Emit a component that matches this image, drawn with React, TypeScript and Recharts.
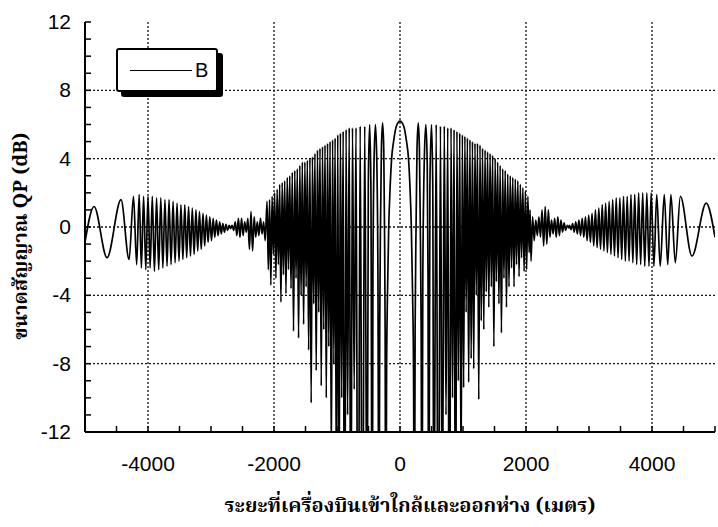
import { Legend, Line, LineChart, ReferenceLine, XAxis, YAxis } from 'recharts'

type Pt = [number, number]

// distance (m) against QP level (dB) from left to right
const farLeft: Pt[] = [
  [-5000, -0.9], [-4856, 1.2], [-4650, -1.8], [-4428, 1.6], [-4300, -1.9], [-4230, 1.8], [-4180, -2.2],
]

const leftFringe: Pt[] = [
  [-4140, 1.9], [-4105, -2.4], [-4070, 1.8], [-4035, -2.5], [-4000, 1.8], [-3966, -2.4], [-3932, 1.8],
  [-3898, -2.6], [-3864, 1.7], [-3830, -2.5], [-3797, 1.7], [-3764, -2.4], [-3731, 1.6], [-3698, -2.3],
  [-3666, 1.6], [-3634, -2.2], [-3602, 1.5], [-3570, -2.1], [-3539, 1.4], [-3508, -2.0], [-3477, 1.3],
  [-3446, -1.9], [-3416, 1.3], [-3386, -1.8], [-3356, 1.2], [-3326, -1.7], [-3297, 1.1], [-3268, -1.6],
  [-3239, 1.0], [-3211, -1.4], [-3183, 0.9], [-3155, -1.3], [-3127, 0.8], [-3100, -1.1], [-3073, 0.7],
  [-3046, -0.9], [-3019, 0.6], [-2992, -0.8], [-2966, 0.5], [-2940, -0.6], [-2914, 0.4], [-2888, -0.5],
  [-2862, 0.3], [-2837, -0.4], [-2812, 0.2], [-2787, -0.3], [-2762, 0.15], [-2737, -0.2], [-2712, 0.1],
  [-2690, -0.1],
]

const leftBursts: Pt[] = [
  [-2665, 0.1], [-2640, -0.2], [-2615, 0.3], [-2590, -0.5], [-2565, 0.5], [-2540, -0.6], [-2515, 0.5],
  [-2490, -0.5], [-2465, 0.3], [-2440, -0.3], [-2415, 0.5], [-2390, -1.3], [-2365, 0.9], [-2340, -1.4],
  [-2315, 0.6], [-2290, -0.6], [-2265, 0.3], [-2240, -0.5], [-2215, 0.5], [-2190, -0.4], [-2165, 0.3],
  [-2140, -0.8],
]

const leftSkirt: Pt[] = [
  [-2110, 1.5], [-2090, -2.5], [-2070, 1.6], [-2050, -3.4], [-2030, 1.8], [-2010, -1.6], [-1990, 2.0],
  [-1970, -3.0], [-1950, 2.2], [-1930, -2.2], [-1910, 2.5], [-1890, -4.4], [-1870, 2.6], [-1850, -2.8],
  [-1830, 2.7], [-1810, -3.9], [-1790, 2.9], [-1770, -2.5], [-1750, 3.0], [-1730, -3.6], [-1710, 3.2],
  [-1690, -6.1], [-1670, 3.3], [-1650, -3.0], [-1630, 3.4], [-1610, -6.5], [-1590, 3.6], [-1570, -4.0],
  [-1550, 3.8], [-1530, -5.7], [-1510, 3.8], [-1490, -3.5], [-1470, 3.9], [-1450, -7.2], [-1430, 4.0],
  [-1410, -10.3], [-1390, 4.1], [-1370, -4.5], [-1350, 4.3], [-1330, -8.4], [-1310, 4.5], [-1290, -5.0],
  [-1270, 4.6], [-1250, -9.3], [-1230, 4.7], [-1210, -6.0], [-1190, 4.8], [-1170, -10.0], [-1150, 4.9],
  [-1130, -7.0], [-1110, 5.0], [-1090, -14], [-1070, 5.1], [-1050, -8.0], [-1030, 5.2], [-1010, -16],
]

const leftCore: Pt[] = [
  [-988, 5.4], [-968, -17], [-946, 5.5], [-925, -10], [-902, 5.6], [-880, -26], [-856, 5.7], [-832, -11],
  [-806, 5.8], [-781, -21], [-754, 5.8], [-727, -9.5], [-698, 5.8], [-666, -28], [-632, 5.9], [-597, -24],
  [-560, 5.9], [-522, -20], [-503, 2.5], [-482, 6.0], [-462, 2.5], [-440, -24], [-430, -3], [-412, 3.8],
  [-390, 6.0], [-368, 3.8], [-350, -3], [-335, -22], [-322, -6], [-310, 0], [-295, 4.6], [-276, 6.1],
  [-258, 4.6], [-246, 0], [-236, -6], [-226, -22],
]

const mainLobe: Pt[] = [
  [-213, -8.5], [-199, -4], [-179, 0], [-158, 2.2], [-133, 4.0], [-98, 5.1], [-58, 5.9], [0, 6.2],
  [60, 5.9], [100, 5.1], [135, 4.0], [160, 2.2], [180, 0], [200, -4], [215, -8.5],
]

const rightCore: Pt[] = [
  [228, -22], [240, -6], [255, 0], [270, 4.6], [290, 6.1], [308, 4.6], [322, 0], [336, -6], [348, -22],
  [362, -3], [385, 3.8], [410, 6.0], [432, 3.8], [445, -3], [455, -24], [475, 2.5], [500, 6.0], [520, 2.5],
  [537, -20], [575, 6.0], [608, -25], [642, 5.9], [672, -18], [703, 5.9], [730, -11], [758, 5.8],
  [784, -26], [810, 5.8], [834, -10], [858, 5.7], [881, -22], [904, 5.6], [926, -9], [948, 5.5],
  [969, -15], [990, 5.4],
]

const rightSkirt: Pt[] = [
  [1010, -9.4], [1030, 5.3], [1050, -5], [1070, 5.2], [1090, -9.1], [1110, 5.1], [1130, -7.7], [1150, 5.0],
  [1170, -8.3], [1190, 4.9], [1210, -4.0], [1230, 4.9], [1250, -10.1], [1270, 4.8], [1290, -5.5],
  [1310, 4.6], [1330, -6.0], [1350, 4.5], [1370, -3.8], [1390, 4.4], [1410, -4.7], [1430, 4.3],
  [1450, -3.5], [1470, 4.2], [1490, -7.0], [1510, 4.0], [1530, -3.2], [1550, 3.8], [1570, -4.5],
  [1590, 3.6], [1610, -6.2], [1630, 3.4], [1650, -3.0], [1670, 3.3], [1690, -4.7], [1710, 3.1],
  [1730, -3.5], [1750, 3.0], [1770, -2.4], [1790, 2.9], [1810, -3.5], [1830, 2.8], [1850, -2.2],
  [1870, 2.7], [1890, -2.9], [1910, 2.5], [1930, -1.8], [1950, 2.3], [1970, -2.6], [1990, 2.1],
  [2010, -2.5], [2030, 1.8], [2050, -1.5], [2065, 1.0],
]

const rightBursts: Pt[] = [
  [2080, -2.0], [2105, 0.6], [2130, -0.8], [2155, 0.4], [2180, -0.5], [2205, 0.6], [2230, -0.6],
  [2255, 1.0], [2280, -1.1], [2305, 1.2], [2330, -1.0], [2355, 1.0], [2380, -0.6], [2405, 0.4],
  [2430, -0.4], [2455, 0.5], [2480, -0.6], [2505, 0.6], [2530, -0.5], [2555, 0.4], [2580, -0.3],
  [2605, 0.25], [2630, -0.2], [2655, 0.1], [2680, -0.05],
]

const rightFringe: Pt[] = [
  [2690, 0.1], [2715, -0.15], [2740, 0.2], [2765, -0.3], [2790, 0.3], [2815, -0.4], [2840, 0.4],
  [2866, -0.5], [2892, 0.5], [2918, -0.6], [2944, 0.6], [2970, -0.8], [2996, 0.7], [3022, -0.9],
  [3048, 0.8], [3075, -1.1], [3102, 1.0], [3129, -1.2], [3156, 1.1], [3183, -1.3], [3210, 1.3],
  [3237, -1.4], [3264, 1.4], [3292, -1.5], [3320, 1.5], [3348, -1.6], [3376, 1.6], [3404, -1.7],
  [3432, 1.7], [3461, -1.8], [3490, 1.7], [3519, -1.9], [3548, 1.8], [3577, -2.0], [3606, 1.8],
  [3636, -2.0], [3666, 1.9], [3696, -2.1], [3726, 1.9], [3757, -2.2], [3788, 2.0], [3820, -2.2],
  [3852, 2.0], [3885, -2.3], [3918, 2.0], [3952, -2.3], [3987, 2.0], [4030, -2.3], [4075, 1.9],
  [4130, -2.3], [4195, 1.9], [4250, -2.2], [4300, 1.9], [4370, -2.1], [4450, 1.8],
]

const farRight: Pt[] = [[4634, -1.7], [4860, 1.4], [5000, -0.6]]

const xTicks = [
  -5000, -4500, -4000, -3500, -3000, -2500, -2000, -1500, -1000, -500, 0,
  500, 1000, 1500, 2000, 2500, 3000, 3500, 4000, 4500, 5000,
]
const xLabelled = [-4000, -2000, 0, 2000, 4000]
const yTicks = [
  -12, -11, -10, -9, -8, -7, -6, -5, -4, -3, -2, -1, 0, 1, 2, 3, 4, 5, 6, 7, 8, 9, 10, 11, 12,
]
const yLabelled = [-12, -8, -4, 0, 4, 8, 12]
const xGrid = [-4000, -2000, 0, 2000, 4000]
const yGrid = [-8, -4, 0, 4, 8]

const data = [
  ...farLeft, ...leftFringe, ...leftBursts, ...leftSkirt, ...leftCore, ...mainLobe,
  ...rightCore, ...rightSkirt, ...rightBursts, ...rightFringe, ...farRight,
].map(([x, y]) => ({ x, y }))

const numFont = '"Liberation Sans", Arial, sans-serif'
const thaiFont = '"Noto Serif Thai", "Noto Sans Thai", Loma, Garuda, "DejaVu Sans", "Liberation Serif", serif'

function BottomTick({ x, y, payload }: any) {
  const v = payload.value
  return (
    <g>
      <line x1={x} x2={x} y1={y} y2={y - 6} stroke="#000" strokeWidth={1.5} />
      {xLabelled.includes(v) && (
        <text x={x} y={y + 39} textAnchor="middle" fontSize={21} fontFamily={numFont} fill="#000">
          {v}
        </text>
      )}
    </g>
  )
}

function TopTick({ x, y }: any) {
  return <line x1={x} x2={x} y1={y} y2={y + 6} stroke="#000" strokeWidth={1.5} />
}

function LeftTick({ x, y, payload }: any) {
  const v = payload.value
  return (
    <g>
      <line x1={x} x2={x + 6} y1={y} y2={y} stroke="#000" strokeWidth={1.5} />
      {yLabelled.includes(v) && (
        <text x={x - 14} y={y + 7} textAnchor="end" fontSize={21} fontFamily={numFont} fill="#000">
          {v}
        </text>
      )}
    </g>
  )
}

function RightTick({ x, y }: any) {
  return <line x1={x} x2={x - 6} y1={y} y2={y} stroke="#000" strokeWidth={1.5} />
}

const XTitle = () => (
  <text x={410} y={512} textAnchor="middle" fontSize={20} fontWeight="bold" fontFamily={thaiFont} fill="#000">
    ระยะที่เครื่องบินเข้าใกล้และออกห่าง (เมตร)
  </text>
)

const YTitle = () => (
  <text
    transform="translate(22,236) rotate(-90)"
    textAnchor="middle"
    dominantBaseline="middle"
    fontSize={20}
    fontWeight="bold"
    fontFamily={thaiFont}
    fill="#000"
  >
    ขนาดสัญญาณ QP (dB)
  </text>
)

function LegendBox({ payload }: any) {
  const name = payload && payload[0] ? payload[0].value : 'B'
  return (
    <div
      style={{
        width: 102,
        height: 44,
        border: '2px solid #000',
        borderRadius: 3,
        boxShadow: '5px 5px 0 #000',
        background: '#fff',
        display: 'flex',
        alignItems: 'center',
        paddingLeft: 12,
        boxSizing: 'border-box',
      }}
    >
      <div style={{ width: 62, height: 0, borderTop: '1.6px solid #000' }} />
      <span style={{ marginLeft: 3, fontSize: 20, fontFamily: numFont, color: '#000' }}>{name}</span>
    </div>
  )
}

const axisLine = { stroke: '#000', strokeWidth: 2 }

export default function App() {
  return (
    <div style={{ position: 'absolute', left: 0, top: 0, background: '#fff' }}>
      <LineChart width={718} height={527} data={data} margin={{ top: 22, right: 3, bottom: 0, left: 0 }}>
        <XAxis
          dataKey="x"
          type="number"
          domain={[-5000, 5000]}
          allowDataOverflow
          ticks={xTicks}
          interval={0}
          tick={BottomTick}
          tickLine={false}
          tickSize={0}
          tickMargin={0}
          axisLine={axisLine}
          height={95}
          label={XTitle}
        />
        <XAxis
          xAxisId="top"
          orientation="top"
          type="number"
          domain={[-5000, 5000]}
          allowDataOverflow
          ticks={xTicks}
          interval={0}
          tick={TopTick}
          tickLine={false}
          tickSize={0}
          tickMargin={0}
          axisLine={axisLine}
          height={0}
        />
        <YAxis
          type="number"
          domain={[-12, 12]}
          allowDataOverflow
          ticks={yTicks}
          interval={0}
          tick={LeftTick}
          tickLine={false}
          tickSize={0}
          tickMargin={0}
          axisLine={axisLine}
          width={85}
          label={YTitle}
        />
        <YAxis
          yAxisId="right"
          orientation="right"
          type="number"
          domain={[-12, 12]}
          allowDataOverflow
          ticks={yTicks}
          interval={0}
          tick={RightTick}
          tickLine={false}
          tickSize={0}
          tickMargin={0}
          axisLine={axisLine}
          width={0}
        />
        {xGrid.map((v) => (
          <ReferenceLine key={'gx' + v} x={v} stroke="#111" strokeWidth={1.3} strokeDasharray="2 2" />
        ))}
        {yGrid.map((v) => (
          <ReferenceLine key={'gy' + v} y={v} stroke="#111" strokeWidth={1.3} strokeDasharray="2 2" />
        ))}
        <Legend
          layout="horizontal"
          verticalAlign="middle"
          align="center"
          wrapperStyle={{ left: 116, top: 48, width: 'auto', height: 'auto' }}
          content={LegendBox}
        />
        <Line
          dataKey="y"
          name="B"
          type="monotone"
          stroke="#000"
          strokeWidth={1.7}
          dot={false}
          isAnimationActive={false}
        />
      </LineChart>
    </div>
  )
}
